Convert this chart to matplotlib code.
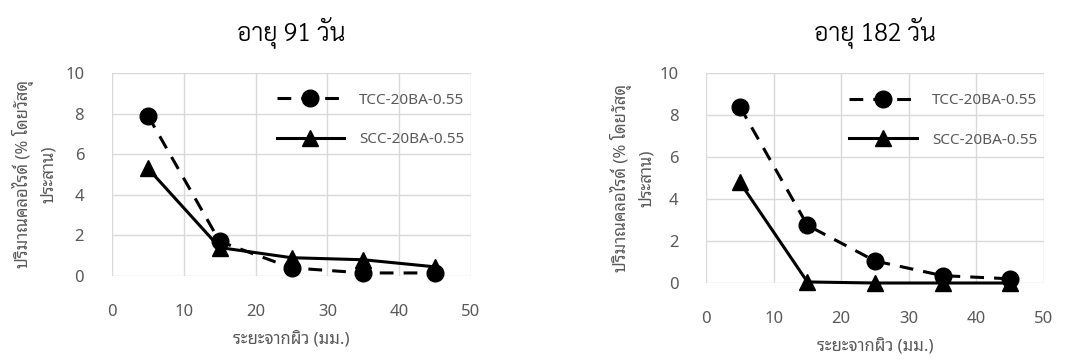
import matplotlib
matplotlib.use('Agg')
import matplotlib.pyplot as plt
from matplotlib import font_manager

# pick an installed Thai font
names_avail = {f.name for f in font_manager.fontManager.ttflist}
thai_font = 'Anuphan'
for nm in ['Noto Sans Thai Looped', 'Sarabun', 'Noto Sans Thai', 'IBM Plex Sans Thai Looped',
           'IBM Plex Sans Thai', 'Anuphan']:
    if nm in names_avail:
        thai_font = nm
        break
plt.rcParams['font.family'] = [thai_font, 'DejaVu Sans']

# lighter face for the titles if one exists
light = {f.name for f in font_manager.fontManager.ttflist
         if isinstance(f.weight, int) and f.weight == 300}
title_font = thai_font
for nm in ['Sarabun', 'Noto Sans Thai Looped', 'Noto Sans Thai', 'IBM Plex Sans Thai Looped', 'Athiti']:
    if nm in light:
        title_font = nm
        break

depth = [5, 15, 25, 35, 45]
tcc_91 = [7.9, 1.7, 0.4, 0.15, 0.15]
scc_91 = [5.3, 1.4, 0.9, 0.8, 0.45]
tcc_182 = [8.4, 2.75, 1.05, 0.35, 0.2]
scc_182 = [4.8, 0.05, 0.0, 0.0, 0.0]

titles = ['อายุ 91 วัน', 'อายุ 182 วัน']
xlab = 'ระยะจากผิว (มม.)'
ylab = 'ปริมาณคลอไรด์ (% โดยวัสดุ\nประสาน)'
names = ['TCC-20BA-0.55', 'SCC-20BA-0.55']

fig = plt.figure(figsize=(10.73, 3.62), dpi=100)
ax1 = fig.add_axes([0.1044, 0.2376, 0.3346, 0.5608])
ax2 = fig.add_axes([0.658, 0.2182, 0.315, 0.580])

grey = '#595959'
for ax, tcc, scc, t in [(ax1, tcc_91, scc_91, titles[0]), (ax2, tcc_182, scc_182, titles[1])]:
    ax.plot(depth, tcc, color='black', linestyle=(0, (4.5, 3.3)), linewidth=2.2,
            marker='o', markersize=12, label=names[0], clip_on=False, zorder=3)
    ax.plot(depth, scc, color='black', linestyle='-', linewidth=2.2,
            marker='^', markersize=12, label=names[1], clip_on=False, zorder=3)
    ax.set_xlim(0, 50)
    ax.set_ylim(0, 10)
    ax.set_xticks(range(0, 51, 10))
    ax.set_yticks(range(0, 11, 2))
    ax.grid(True, color='#d9d9d9', linewidth=1)
    ax.set_axisbelow(True)
    for s in ax.spines.values():
        s.set_visible(False)
    ax.tick_params(length=0, labelsize=12, labelcolor=grey, pad=20)
    ax.tick_params(axis='y', pad=20)
    ax.set_title(t, fontsize=18, pad=23, fontweight=300, family=[title_font, 'DejaVu Sans'])
    ax.set_xlabel(xlab, fontsize=12, color=grey, labelpad=8)
    ax.set_ylabel(ylab, fontsize=12, color=grey, linespacing=1.6)
    ax.yaxis.set_label_coords(-0.153 if ax is ax1 else -0.15, 0.5)
    leg = ax.legend(loc='upper right', frameon=False, fontsize=11, handlelength=4.4,
                    numpoints=1, labelspacing=1.6, handletextpad=1.0,
                    bbox_to_anchor=(1.02, 0.97))
    for txt in leg.get_texts():
        txt.set_color(grey)

fig.savefig('out.png', dpi=100)
